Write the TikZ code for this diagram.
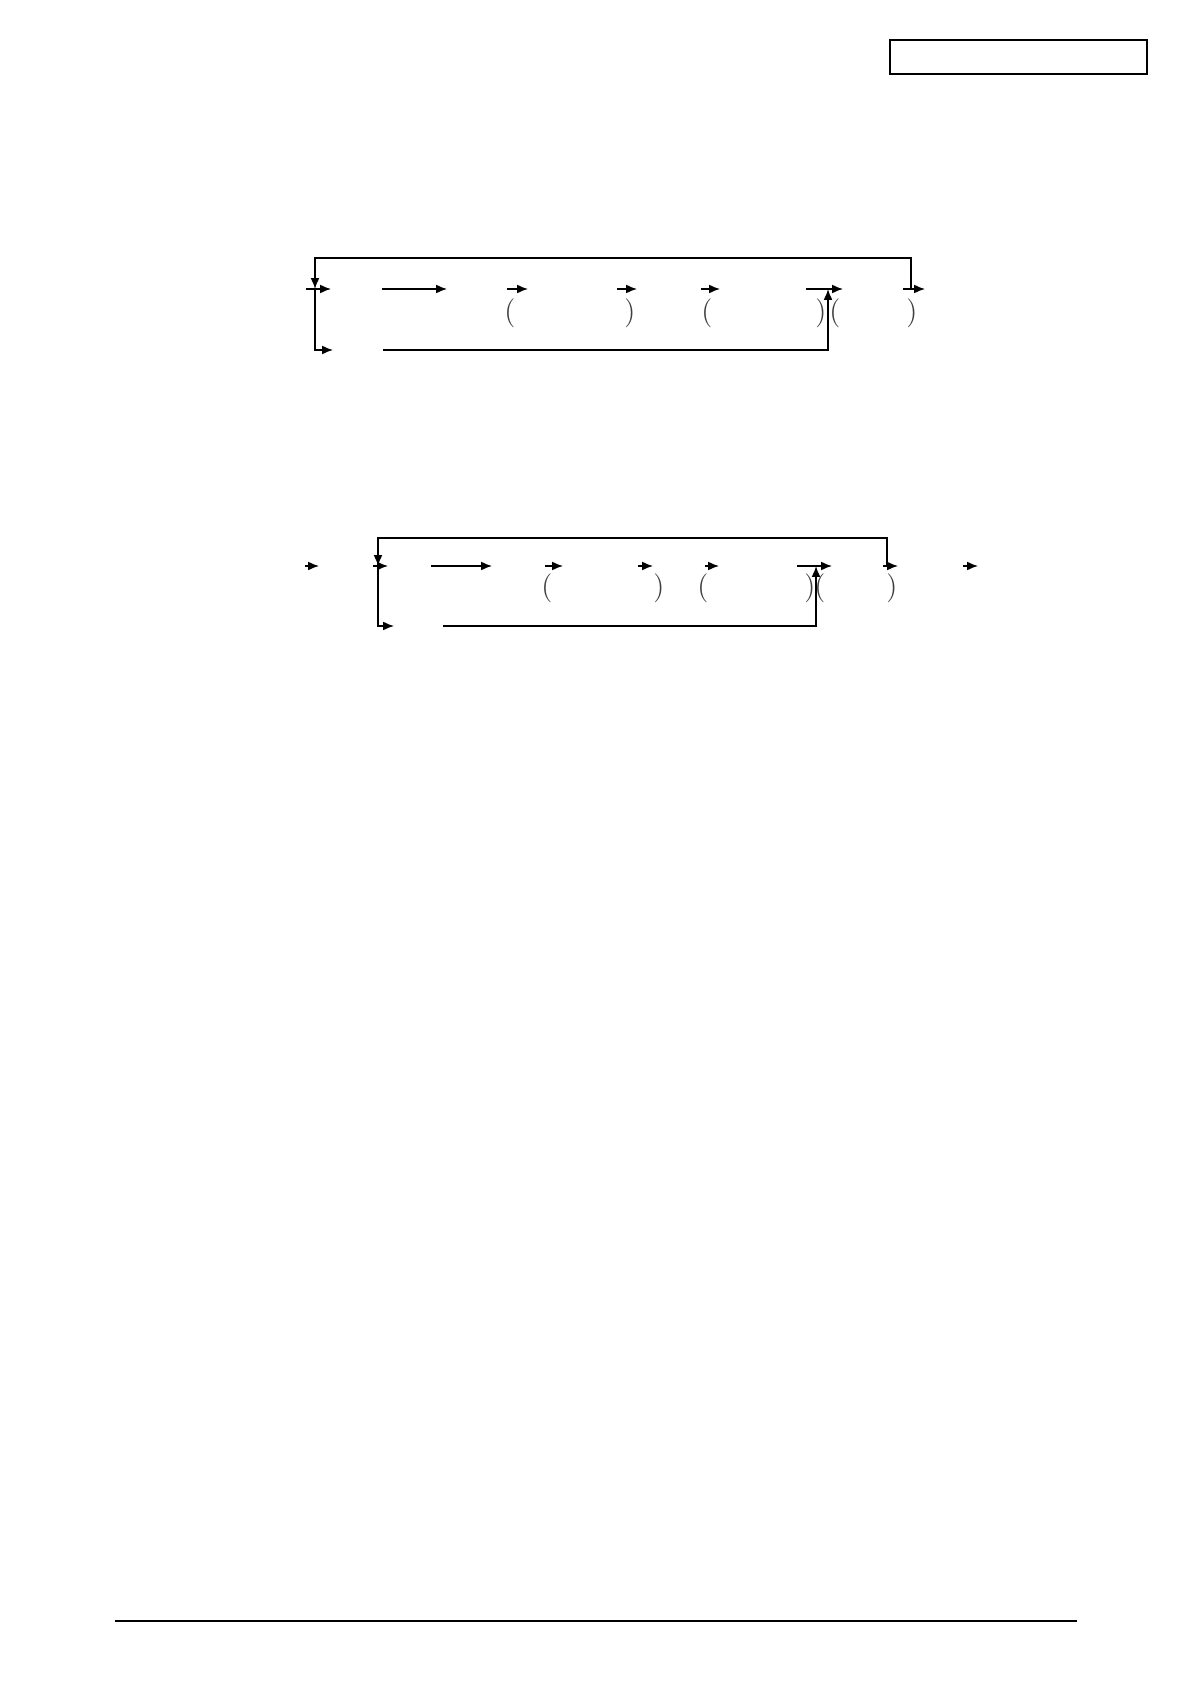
\documentclass[tikz,border=0pt]{standalone}
\usetikzlibrary{arrows.meta}
\tikzstyle{flow}=[-{Latex[length=5.4pt,width=4.4pt]},line width=0.75pt]
\tikzstyle{paren}=[inner sep=0pt,text=black!75,font=\fontsize{14.5}{14.5}\selectfont]

\begin{document}
\begin{tikzpicture}[x=0.5pt,y=-0.5pt]
		\useasboundingbox (0,0) rectangle (1191,1684);

		\def\rowA {289}
		\def\rowB {566}
		\def\parA {313}
		\def\parB {588}

		% page frame
		\node [draw=black,line width=1pt,minimum width=128.5pt,minimum height=17pt,inner sep=0pt] (tag) at (1018.5,57) {};
		\coordinate (footL) at (115,1621);
		\coordinate (footR) at (1077,1621);
		\draw [line width=0.8pt] (footL) -- (footR);

		% first chart
		\foreach \s/\e [count=\cnt] in {306/331,382/447,507/528,617/637,701/720,806/843,903/925}
		{
			\coordinate (A\cnt s) at (\s,\rowA);
			\coordinate (A\cnt e) at (\e,\rowA);
			\draw [flow] (A\cnt s) -- (A\cnt e);
		}
		\foreach \x/\p [count=\cnt] in {510/(,630/),707/(,821/),835/(,912/)}
			\node [paren] (PA\cnt) at (\x,\parA) {\p};

		\coordinate (loopA) at (911,\rowA);
		\coordinate (forkA) at (315,\rowA);
		\coordinate (skipA) at (333,350);
		\coordinate (backA) at (383,350);
		\coordinate (joinA) at (828,\rowA);
		\draw [flow] (loopA) |- (315,258) -- (forkA);
		\draw [flow] (forkA) |- (skipA);
		\draw [flow] (backA) -| (joinA);

		% second chart
		\foreach \s/\e [count=\cnt] in {305/319,373/388,431/492,545/563,638/653,705/719,797/832,883/898,963/978}
		{
			\coordinate (B\cnt s) at (\s,\rowB);
			\coordinate (B\cnt e) at (\e,\rowB);
			\draw [flow] (B\cnt s) -- (B\cnt e);
		}
		\foreach \x/\p [count=\cnt] in {547/(,659/),703/(,810/),820/(,892/)}
			\node [paren] (PB\cnt) at (\x,\parB) {\p};

		\coordinate (loopB) at (887,\rowB);
		\coordinate (forkB) at (378,\rowB);
		\coordinate (skipB) at (394,626);
		\coordinate (backB) at (443,626);
		\coordinate (joinB) at (816,\rowB);
		\draw [flow] (loopB) |- (378,538) -- (forkB);
		\draw [flow] (forkB) |- (skipB);
		\draw [flow] (backB) -| (joinB);

\end{tikzpicture}
\end{document}
